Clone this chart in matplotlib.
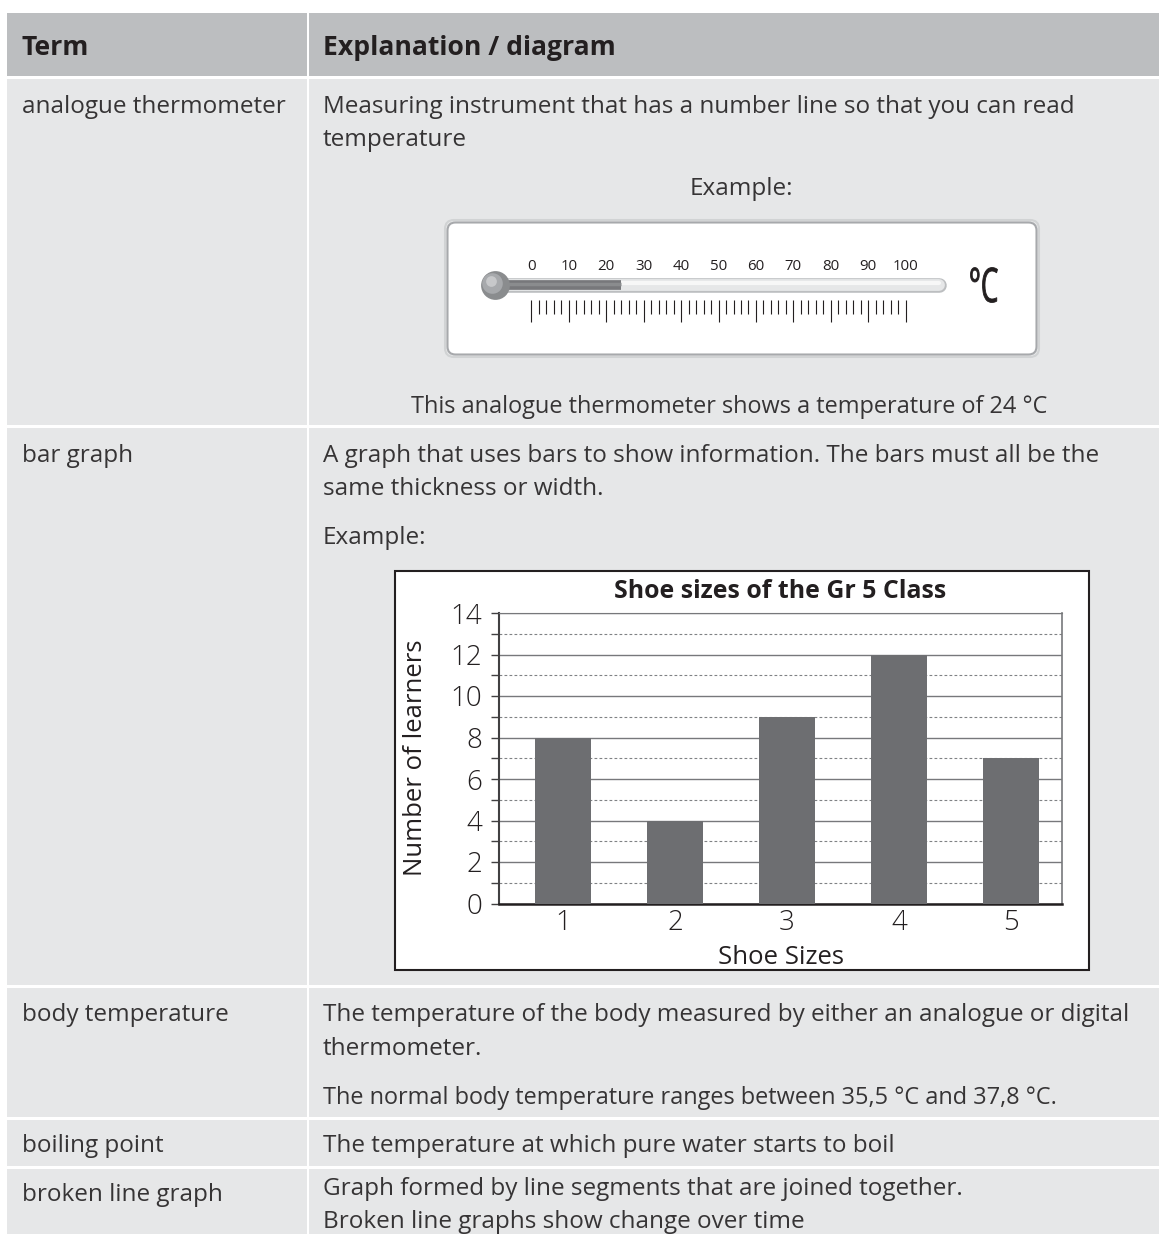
import numpy as np
import matplotlib
matplotlib.use("Agg")
import matplotlib.pyplot as plt
from matplotlib.patches import Rectangle, FancyBboxPatch, PathPatch
from matplotlib.textpath import TextPath
from matplotlib.font_manager import FontProperties
from matplotlib.transforms import Affine2D

plt.rcParams['font.family'] = ['Open Sans', 'DejaVu Sans']

W, H = 1159, 1234

### table content
header = ["Term", "Explanation / diagram"]
terms = ["analogue thermometer", "bar graph", "body temperature",
         "boiling point", "broken line graph"]
explanations = [
    ["Measuring instrument that has a number line so that you can read",
     "temperature"],
    ["A graph that uses bars to show information. The bars must all be the",
     "same thickness or width."],
    ["The temperature of the body measured by either an analogue or digital",
     "thermometer."],
    ["The temperature at which pure water starts to boil"],
    ["Graph formed by line segments that are joined together.",
     "Broken line graphs show change over time"],
]
body_note = "The normal body temperature ranges between 35,5 °C and 37,8 °C."
example_label = "Example:"

### thermometer
thermo_labels = np.arange(0, 101, 10)
thermo_ticks = np.arange(0, 101, 2)
thermo_reading = 24
thermo_caption = "This analogue thermometer shows a temperature of %d °C" % thermo_reading

### bar graph
shoe_sizes = [1, 2, 3, 4, 5]
learners = [8, 4, 9, 12, 7]
chart_title = "Shoe sizes of the Gr 5 Class"
chart_xlabel = "Shoe Sizes"
chart_ylabel = "Number of learners"

# layout (pixels)
col_x = [7, 309]
col_r = [307, W]
row_tops = [13, 79, 428, 987.5, 1119.5, 1169]
row_bots = [76, 425, 984.5, 1116.5, 1166, H]
dy = 3
term_y = [104, 453, 1012, 1143, 1192]
expl_y = [[104, 137], [453, 486], [1012, 1046], [1143], [1186, 1219]]

txt_col = '#363435'
fs = 17.5
fs_deg = 16.95   # lines with the small degree sign run a bit narrower

fig = plt.figure(figsize=(W / 100, H / 100), dpi=100)
bg = fig.add_axes([0, 0, 1, 1])
bg.set_xlim(0, W)
bg.set_ylim(H, 0)
bg.axis('off')

for i, (t, b) in enumerate(zip(row_tops, row_bots)):
    color = '#bcbec0' if i == 0 else '#e6e7e8'
    for c in range(2):
        bg.add_patch(Rectangle((col_x[c], t), col_r[c] - col_x[c], b - t,
                               facecolor=color, edgecolor='none'))

bg.text(22, 45 + dy, header[0], fontsize=19.1, fontweight='bold', color='#231f20', va='center')
bg.text(323, 45 + dy, header[1], fontsize=19.1, fontweight='bold', color='#231f20', va='center')

for i, term in enumerate(terms):
    bg.text(22, term_y[i] + dy, term, fontsize=fs, color=txt_col, va='center')
    for line, y in zip(explanations[i], expl_y[i]):
        bg.text(323, y + dy, line, fontsize=fs, color=txt_col, va='center')

bg.text(323, 1095 + dy, body_note, fontsize=fs_deg, color=txt_col, va='center')
bg.text(741, 186 + dy, example_label, fontsize=fs, color=txt_col, va='center', ha='center')
bg.text(323, 535 + dy, example_label, fontsize=fs, color=txt_col, va='center')
bg.text(729, 404 + dy, thermo_caption, fontsize=fs_deg, color=txt_col, va='center', ha='center')

# thermometer frame
bg.add_patch(FancyBboxPatch((445, 220), 594, 137, boxstyle='round,pad=0,rounding_size=9',
                            facecolor='none', edgecolor='#d1d3d4', lw=1.5))
bg.add_patch(FancyBboxPatch((447.5, 222.5), 589, 132, boxstyle='round,pad=0,rounding_size=8',
                            facecolor='white', edgecolor='#a7a9ac', lw=1.5))

# condensed degree-Celsius sign
tp = TextPath((0, 0), '°C', size=47.6, prop=FontProperties(family='Open Sans'))
ext = tp.get_extents()
sx = 27.0 / ext.width
tr_c = Affine2D().translate(-ext.x0, 0).scale(sx, -1).translate(970.5, 302) + bg.transData
bg.add_patch(PathPatch(tp, transform=tr_c, facecolor='#231f20', edgecolor='#231f20',
                       lw=0.6, zorder=10))

# thermometer axes, x in degrees
px_per_deg = (905.7 - 531.4) / 100
x0 = 531.4
tl, tr, tt, tb = 447, 1037, 222, 355
tax = fig.add_axes([tl / W, 1 - tb / H, (tr - tl) / W, (tb - tt) / H])
tax.set_xlim((tl - x0) / px_per_deg, (tr - x0) / px_per_deg)
tax.set_ylim(tb - tt, 0)
tax.axis('off')
tax.patch.set_alpha(0)

bulb_x = (494.5 - x0) / px_per_deg
tube_end = (946 - 7 - x0) / px_per_deg
tube_y = 63
tax.plot([bulb_x, tube_end], [tube_y, tube_y], color='#bcbec0', lw=10.5,
         solid_capstyle='round', zorder=1)
tax.plot([bulb_x, tube_end], [tube_y, tube_y], color='#e6e7e8', lw=8.5,
         solid_capstyle='round', zorder=2)
tax.plot([bulb_x, tube_end], [tube_y - 2, tube_y - 2], color='#f7f7f7', lw=3,
         solid_capstyle='round', zorder=3)
tax.plot([bulb_x, thermo_reading], [tube_y, tube_y], color='#77787b', lw=7,
         solid_capstyle='butt', zorder=4)
tax.plot([bulb_x, thermo_reading], [tube_y - 1.5, tube_y - 1.5], color='#8a8c8e', lw=2.5,
         solid_capstyle='butt', zorder=5)
tax.scatter([bulb_x], [tube_y], s=430, color='#8a8c8e', zorder=6, linewidths=0)
tax.scatter([bulb_x - 0.6], [tube_y - 2.5], s=220, color='#a7a9ac', zorder=7, linewidths=0)
tax.scatter([bulb_x - 0.9], [tube_y - 4.5], s=60, color='#c7c8ca', zorder=8, linewidths=0)

for v in thermo_ticks:
    bottom = 100 if v % 10 == 0 else 92
    tax.vlines(v, 78, bottom, color='#231f20', lw=0.8)
for v in thermo_labels:
    tax.text(v, 44, str(v), fontsize=10.8, color='#231f20', ha='center', va='center')

# bar chart frame and labels
bg.add_patch(Rectangle((394.5, 571), 694, 399, facecolor='white', edgecolor='#231f20', lw=1.5))
bg.text(780, 590 + 2, chart_title, fontsize=17.9, fontweight='bold', color='#231f20',
        ha='center', va='center')
bg.text(781, 955 + 2, chart_xlabel, fontsize=18.5, color='#231f20', ha='center', va='center')
bg.text(415, 758, chart_ylabel, fontsize=18.5, color='#231f20', ha='center', va='center',
        rotation=90)

ax = fig.add_axes([499 / W, 1 - 903.5 / H, (1062 - 499) / W, (903.5 - 613) / H])
ax.bar(shoe_sizes, learners, width=0.5, color='#6d6e71', zorder=3)
ax.set_xlim(0.43, 5.455)
ax.set_ylim(0, 14)
ax.set_yticks(np.arange(0, 15, 2))
ax.set_yticks(np.arange(1, 14, 2), minor=True)
ax.set_xticks(shoe_sizes)
ax.grid(axis='y', which='major', color='#77787b', lw=1, zorder=0)
ax.grid(axis='y', which='minor', color='#808285', lw=0.8, ls=(0, (2.5, 2)), zorder=0)
ax.set_axisbelow(True)
ax.tick_params(axis='y', which='both', direction='out', length=6, width=1, color='#414042',
               pad=6, labelsize=20, labelcolor='#231f20')
ax.tick_params(axis='x', length=0, pad=4, labelsize=20, labelcolor='#231f20')
for lab in ax.get_xticklabels() + ax.get_yticklabels():
    lab.set_fontweight('light')
ax.spines['left'].set_color('#414042')
ax.spines['left'].set_linewidth(1.5)
ax.spines['bottom'].set_color('#231f20')
ax.spines['bottom'].set_linewidth(1.8)
ax.spines['top'].set_color('#77787b')
ax.spines['right'].set_color('#77787b')
ax.spines['right'].set_linewidth(1.2)

fig.savefig('out.png', dpi=100)
